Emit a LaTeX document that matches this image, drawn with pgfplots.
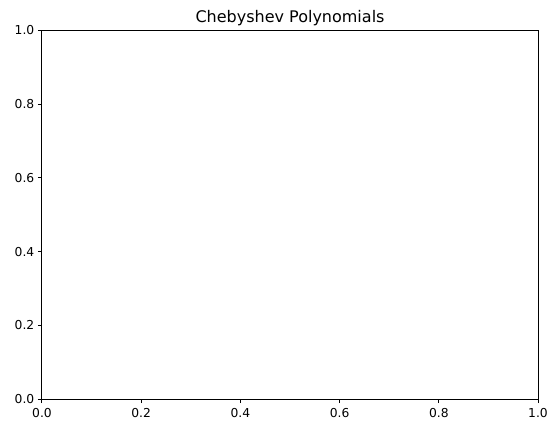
\documentclass[border=0pt]{standalone}
\usepackage{fontspec}
\setmainfont{DejaVu Sans}
\usepackage{pgfplots}
\pgfplotsset{compat=1.18}
\usetikzlibrary{calc}
\begin{document}
\begin{tikzpicture}
\begin{axis}[
    scale only axis,
    width=496pt, height=368.5pt,
    xmin=0, xmax=1, ymin=0, ymax=1,
    xtick={0,0.2,0.4,0.6,0.8,1},
    ytick={0,0.2,0.4,0.6,0.8,1},
    tick pos=left,
    tick align=outside,
    major tick length=4.2pt,
    every tick/.style={black, line width=1pt},
    axis line style={line width=1pt},
    tick label style={font=\fontsize{12.3}{14}\selectfont},
    xticklabel style={yshift=-1.5pt},
    yticklabel style={/pgf/number format/.cd, fixed, fixed zerofill, precision=1, assume math mode=true},
    xticklabel style={/pgf/number format/.cd, fixed, fixed zerofill, precision=1, assume math mode=true},
]
\coordinate (bl) at (rel axis cs:0,0);
\coordinate (tr) at (rel axis cs:1,1);
\coordinate (tt) at (rel axis cs:0.5,1);
\end{axis}
% title placed like matplotlib's: centred over the axes
\node[anchor=base, font=\fontsize{16}{19}\selectfont, inner sep=0pt]
  at ($(tt)+(0,8.4pt)$) {Chebyshev Polynomials};
\pgfresetboundingbox
\path[use as bounding box] ($(bl)+(-42pt,-34pt)$) rectangle ($(tr)+(20pt,30.5pt)$);
\end{tikzpicture}
\end{document}
